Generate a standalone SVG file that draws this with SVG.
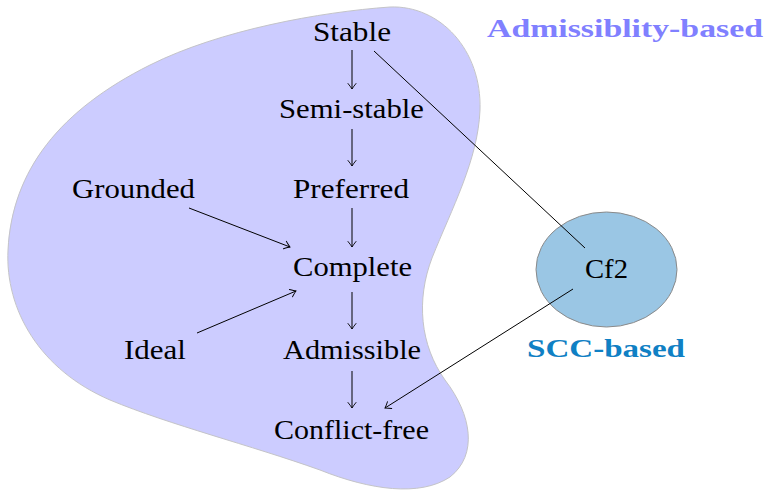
<svg xmlns="http://www.w3.org/2000/svg" width="765" height="490" viewBox="0 0 765 490">
<defs>
<marker id="arr" markerUnits="userSpaceOnUse" markerWidth="12" markerHeight="12" viewBox="-7 -6 8 12" refX="0" refY="0" orient="auto">
<path d="M -5.5,-4 Q -1.5,-0.8 0,0 Q -1.5,0.8 -5.5,4" fill="none" stroke="#000" stroke-width="0.9" stroke-linecap="round"/>
</marker>
</defs>
<style>
.lbl{font-family:"Liberation Serif","DejaVu Serif",serif;font-size:28px;fill:#000;text-anchor:middle}
.big{font-family:"Liberation Serif","DejaVu Serif",serif;font-size:26px;font-weight:bold;text-anchor:middle}
.edge{stroke:#000;stroke-width:1;fill:none}
</style>
<g id="region-admissibility">
<path d="M 390,7 C 440,5 482,50 480,110 C 478,160 452,208 432,258 C 416,300 420,345 445,380 C 472,415 478,455 450,477 C 420,497 370,490 320,470 C 250,445 170,425 110,400 C 40,370 5,310 8,250 C 12,170 60,110 150,65 C 220,30 320,12 390,7 Z" fill="#ccccff" stroke="#c4c4c8" stroke-width="1"/>
<text class="big" x="625" y="37" fill="#8080ff" textLength="276" lengthAdjust="spacingAndGlyphs">Admissiblity-based</text>
</g>
<g id="region-scc">
<ellipse cx="606.5" cy="269.5" rx="70.5" ry="57.5" fill="#9ac6e4" stroke="#8a8a8a" stroke-width="1"/>
<text class="big" x="606" y="357" fill="#0f80c4" textLength="158" lengthAdjust="spacingAndGlyphs">SCC-based</text>
</g>
<g id="connectors">
<line class="edge" x1="352" y1="50" x2="352" y2="89" marker-end="url(#arr)"/>
<line class="edge" x1="352" y1="129" x2="352" y2="166" marker-end="url(#arr)"/>
<line class="edge" x1="352" y1="208" x2="352" y2="247" marker-end="url(#arr)"/>
<line class="edge" x1="352" y1="292" x2="352" y2="329" marker-end="url(#arr)"/>
<line class="edge" x1="352" y1="371" x2="352" y2="408" marker-end="url(#arr)"/>
<line class="edge" x1="189" y1="208" x2="290" y2="247" marker-end="url(#arr)"/>
<line class="edge" x1="197" y1="333" x2="296" y2="291" marker-end="url(#arr)"/>
<line class="edge" x1="374" y1="51" x2="585" y2="248"/>
<line class="edge" x1="573" y1="289" x2="385" y2="408" marker-end="url(#arr)"/>
</g>
<g id="node-stable"><text class="lbl" x="352" y="41" textLength="78" lengthAdjust="spacingAndGlyphs">Stable</text></g>
<g id="node-semistable"><text class="lbl" x="351.5" y="118" textLength="145" lengthAdjust="spacingAndGlyphs">Semi-stable</text></g>
<g id="node-grounded"><text class="lbl" x="133.5" y="198" textLength="123" lengthAdjust="spacingAndGlyphs">Grounded</text></g>
<g id="node-preferred"><text class="lbl" x="351" y="198" textLength="116" lengthAdjust="spacingAndGlyphs">Preferred</text></g>
<g id="node-complete"><text class="lbl" x="352.5" y="276" textLength="119" lengthAdjust="spacingAndGlyphs">Complete</text></g>
<g id="node-ideal"><text class="lbl" x="155" y="359" textLength="62" lengthAdjust="spacingAndGlyphs">Ideal</text></g>
<g id="node-admissible"><text class="lbl" x="352" y="359" textLength="138" lengthAdjust="spacingAndGlyphs">Admissible</text></g>
<g id="node-conflictfree"><text class="lbl" x="351.5" y="439" textLength="155" lengthAdjust="spacingAndGlyphs">Conflict-free</text></g>
<g id="node-cf2"><text class="lbl" x="606.5" y="278" textLength="43" lengthAdjust="spacingAndGlyphs">Cf2</text></g>
</svg>
